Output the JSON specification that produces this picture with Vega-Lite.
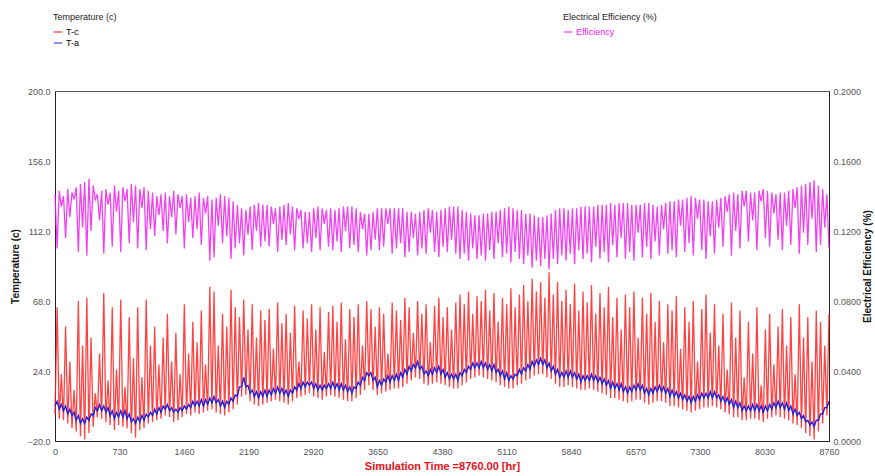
{
"$schema": "https://vega.github.io/schema/vega-lite/v6.json",
"width": 774, "height": 350,
"autosize": {"type": "none"},
"padding": {"left": 55, "top": 91, "right": 46, "bottom": 35},
"background": "white",
"config": {"font": "Liberation Sans", "view": {"stroke": "#555", "strokeWidth": 1},
 "axis": {"labelFont": "Liberation Sans", "labelFontSize": 9, "labelColor": "#555", "domainColor": "#222", "ticks": false, "grid": false, "titleFont": "Liberation Sans", "titleFontSize": 10, "titleFontWeight": "bold", "titleColor": "#111"}},
"data": {"values": [
{"t":0,"c":-3,"a":2,"e":0.141},{"t":24,"c":64,"a":5,"e":0.110},{"t":48,"c":-6,"a":0,"e":0.143},{"t":72,"c":22,"a":3,"e":0.134},{"t":96,"c":-7,"a":-1,"e":0.140},{"t":120,"c":52,"a":2,"e":0.116},{"t":144,"c":-9,"a":-3,"e":0.144},{"t":168,"c":30,"a":0,"e":0.128},{"t":192,"c":-12,"a":-4,"e":0.142},{"t":216,"c":12,"a":-2,"e":0.138},
{"t":240,"c":-14,"a":-7,"e":0.145},{"t":264,"c":68,"a":-4,"e":0.108},{"t":288,"c":-17,"a":-9,"e":0.147},{"t":312,"c":40,"a":-6,"e":0.122},{"t":336,"c":-19,"a":-9,"e":0.148},{"t":360,"c":70,"a":-5,"e":0.106},{"t":384,"c":-15,"a":-7,"e":0.150},{"t":408,"c":45,"a":-3,"e":0.120},{"t":432,"c":-11,"a":-4,"e":0.146},{"t":456,"c":10,"a":1,"e":0.138},
{"t":480,"c":-5,"a":-1,"e":0.141},{"t":504,"c":35,"a":3,"e":0.126},{"t":528,"c":-6,"a":-1,"e":0.143},{"t":552,"c":73,"a":2,"e":0.107},{"t":576,"c":-8,"a":-2,"e":0.144},{"t":600,"c":18,"a":1,"e":0.135},{"t":624,"c":-10,"a":-4,"e":0.142},{"t":648,"c":64,"a":-1,"e":0.111},{"t":672,"c":-13,"a":-6,"e":0.146},{"t":696,"c":25,"a":-2,"e":0.131},
{"t":720,"c":-10,"a":-5,"e":0.143},{"t":744,"c":69,"a":-1,"e":0.108},{"t":768,"c":-11,"a":-5,"e":0.145},{"t":792,"c":14,"a":-1,"e":0.137},{"t":816,"c":-12,"a":-6,"e":0.144},{"t":840,"c":58,"a":-3,"e":0.113},{"t":864,"c":-15,"a":-8,"e":0.147},{"t":888,"c":32,"a":-6,"e":0.125},{"t":912,"c":-18,"a":-9,"e":0.146},{"t":936,"c":64,"a":-5,"e":0.110},
{"t":960,"c":-13,"a":-8,"e":0.144},{"t":984,"c":20,"a":-4,"e":0.133},{"t":1008,"c":-12,"a":-7,"e":0.145},{"t":1032,"c":69,"a":-3,"e":0.109},{"t":1056,"c":-9,"a":-5,"e":0.143},{"t":1080,"c":40,"a":-2,"e":0.121},{"t":1104,"c":-8,"a":-4,"e":0.142},{"t":1128,"c":52,"a":0,"e":0.117},{"t":1152,"c":-7,"a":-3,"e":0.140},{"t":1176,"c":28,"a":1,"e":0.129},
{"t":1200,"c":-6,"a":-2,"e":0.141},{"t":1224,"c":45,"a":2,"e":0.120},{"t":1248,"c":-4,"a":0,"e":0.142},{"t":1272,"c":60,"a":3,"e":0.113},{"t":1296,"c":-5,"a":-1,"e":0.140},{"t":1320,"c":30,"a":1,"e":0.128},{"t":1344,"c":-8,"a":-2,"e":0.143},{"t":1368,"c":48,"a":0,"e":0.118},{"t":1392,"c":-7,"a":-2,"e":0.141},{"t":1416,"c":22,"a":1,"e":0.133},
{"t":1440,"c":-5,"a":-1,"e":0.140},{"t":1464,"c":66,"a":2,"e":0.110},{"t":1488,"c":-3,"a":0,"e":0.141},{"t":1512,"c":35,"a":3,"e":0.125},{"t":1536,"c":-4,"a":1,"e":0.139},{"t":1560,"c":55,"a":5,"e":0.116},{"t":1584,"c":-2,"a":2,"e":0.140},{"t":1608,"c":42,"a":5,"e":0.121},{"t":1632,"c":-3,"a":2,"e":0.142},{"t":1656,"c":62,"a":6,"e":0.112},
{"t":1680,"c":-2,"a":2,"e":0.139},{"t":1704,"c":28,"a":6,"e":0.130},{"t":1728,"c":-1,"a":3,"e":0.140},{"t":1752,"c":77,"a":7,"e":0.103},{"t":1776,"c":0,"a":4,"e":0.138},{"t":1800,"c":74,"a":8,"e":0.105},{"t":1824,"c":-2,"a":4,"e":0.139},{"t":1848,"c":40,"a":6,"e":0.123},{"t":1872,"c":-3,"a":2,"e":0.141},{"t":1896,"c":60,"a":5,"e":0.113},
{"t":1920,"c":-4,"a":1,"e":0.140},{"t":1944,"c":52,"a":5,"e":0.117},{"t":1968,"c":-2,"a":3,"e":0.139},{"t":1992,"c":75,"a":7,"e":0.104},{"t":2016,"c":0,"a":5,"e":0.137},{"t":2040,"c":64,"a":9,"e":0.110},{"t":2064,"c":3,"a":8,"e":0.135},{"t":2088,"c":58,"a":14,"e":0.113},{"t":2112,"c":8,"a":14,"e":0.133},{"t":2136,"c":69,"a":20,"e":0.106},
{"t":2160,"c":9,"a":14,"e":0.132},{"t":2184,"c":50,"a":15,"e":0.118},{"t":2208,"c":5,"a":10,"e":0.134},{"t":2232,"c":66,"a":12,"e":0.109},{"t":2256,"c":3,"a":8,"e":0.135},{"t":2280,"c":45,"a":11,"e":0.120},{"t":2304,"c":2,"a":7,"e":0.136},{"t":2328,"c":62,"a":11,"e":0.111},{"t":2352,"c":3,"a":8,"e":0.135},{"t":2376,"c":56,"a":12,"e":0.114},
{"t":2400,"c":4,"a":8,"e":0.135},{"t":2424,"c":63,"a":12,"e":0.111},{"t":2448,"c":5,"a":9,"e":0.134},{"t":2472,"c":38,"a":13,"e":0.124},{"t":2496,"c":6,"a":10,"e":0.133},{"t":2520,"c":67,"a":14,"e":0.108},{"t":2544,"c":5,"a":10,"e":0.134},{"t":2568,"c":54,"a":13,"e":0.115},{"t":2592,"c":4,"a":9,"e":0.135},{"t":2616,"c":60,"a":12,"e":0.112},
{"t":2640,"c":3,"a":8,"e":0.136},{"t":2664,"c":48,"a":12,"e":0.118},{"t":2688,"c":5,"a":10,"e":0.134},{"t":2712,"c":65,"a":14,"e":0.109},{"t":2736,"c":7,"a":12,"e":0.133},{"t":2760,"c":30,"a":16,"e":0.127},{"t":2784,"c":8,"a":13,"e":0.132},{"t":2808,"c":62,"a":17,"e":0.110},{"t":2832,"c":9,"a":14,"e":0.131},{"t":2856,"c":57,"a":17,"e":0.113},
{"t":2880,"c":10,"a":15,"e":0.131},{"t":2904,"c":66,"a":17,"e":0.108},{"t":2928,"c":8,"a":13,"e":0.133},{"t":2952,"c":50,"a":16,"e":0.116},{"t":2976,"c":7,"a":12,"e":0.134},{"t":3000,"c":64,"a":15,"e":0.109},{"t":3024,"c":6,"a":12,"e":0.133},{"t":3048,"c":36,"a":15,"e":0.124},{"t":3072,"c":8,"a":13,"e":0.132},{"t":3096,"c":61,"a":16,"e":0.111},
{"t":3120,"c":9,"a":13,"e":0.133},{"t":3144,"c":65,"a":17,"e":0.109},{"t":3168,"c":8,"a":13,"e":0.132},{"t":3192,"c":55,"a":16,"e":0.114},{"t":3216,"c":7,"a":12,"e":0.133},{"t":3240,"c":67,"a":16,"e":0.108},{"t":3264,"c":6,"a":12,"e":0.134},{"t":3288,"c":44,"a":15,"e":0.120},{"t":3312,"c":5,"a":11,"e":0.134},{"t":3336,"c":63,"a":14,"e":0.110},
{"t":3360,"c":5,"a":10,"e":0.134},{"t":3384,"c":58,"a":14,"e":0.112},{"t":3408,"c":7,"a":13,"e":0.133},{"t":3432,"c":66,"a":17,"e":0.108},{"t":3456,"c":9,"a":15,"e":0.131},{"t":3480,"c":40,"a":20,"e":0.121},{"t":3504,"c":12,"a":18,"e":0.130},{"t":3528,"c":68,"a":23,"e":0.106},{"t":3552,"c":15,"a":21,"e":0.130},{"t":3576,"c":63,"a":23,"e":0.109},
{"t":3600,"c":12,"a":18,"e":0.131},{"t":3624,"c":52,"a":20,"e":0.115},{"t":3648,"c":9,"a":14,"e":0.133},{"t":3672,"c":64,"a":18,"e":0.109},{"t":3696,"c":10,"a":15,"e":0.133},{"t":3720,"c":60,"a":19,"e":0.111},{"t":3744,"c":11,"a":17,"e":0.133},{"t":3768,"c":35,"a":21,"e":0.124},{"t":3792,"c":12,"a":17,"e":0.133},{"t":3816,"c":67,"a":21,"e":0.107},
{"t":3840,"c":13,"a":18,"e":0.133},{"t":3864,"c":62,"a":22,"e":0.110},{"t":3888,"c":13,"a":18,"e":0.133},{"t":3912,"c":56,"a":23,"e":0.113},{"t":3936,"c":14,"a":20,"e":0.133},{"t":3960,"c":70,"a":25,"e":0.105},{"t":3984,"c":16,"a":22,"e":0.131},{"t":4008,"c":64,"a":27,"e":0.108},{"t":4032,"c":18,"a":24,"e":0.131},{"t":4056,"c":48,"a":28,"e":0.116},
{"t":4080,"c":20,"a":26,"e":0.130},{"t":4104,"c":68,"a":30,"e":0.106},{"t":4128,"c":19,"a":25,"e":0.131},{"t":4152,"c":60,"a":27,"e":0.110},{"t":4176,"c":16,"a":22,"e":0.132},{"t":4200,"c":66,"a":24,"e":0.107},{"t":4224,"c":15,"a":21,"e":0.133},{"t":4248,"c":42,"a":25,"e":0.119},{"t":4272,"c":16,"a":22,"e":0.132},{"t":4296,"c":65,"a":26,"e":0.108},
{"t":4320,"c":17,"a":23,"e":0.131},{"t":4344,"c":70,"a":27,"e":0.105},{"t":4368,"c":16,"a":22,"e":0.132},{"t":4392,"c":58,"a":25,"e":0.111},{"t":4416,"c":15,"a":20,"e":0.133},{"t":4440,"c":64,"a":23,"e":0.108},{"t":4464,"c":14,"a":19,"e":0.134},{"t":4488,"c":50,"a":22,"e":0.115},{"t":4512,"c":13,"a":19,"e":0.134},{"t":4536,"c":67,"a":22,"e":0.107},
{"t":4560,"c":13,"a":18,"e":0.134},{"t":4584,"c":72,"a":23,"e":0.104},{"t":4608,"c":15,"a":21,"e":0.132},{"t":4632,"c":66,"a":25,"e":0.107},{"t":4656,"c":17,"a":23,"e":0.131},{"t":4680,"c":74,"a":27,"e":0.103},{"t":4704,"c":19,"a":25,"e":0.130},{"t":4728,"c":60,"a":29,"e":0.110},{"t":4752,"c":20,"a":26,"e":0.129},{"t":4776,"c":71,"a":29,"e":0.104},
{"t":4800,"c":21,"a":26,"e":0.129},{"t":4824,"c":68,"a":30,"e":0.106},{"t":4848,"c":20,"a":26,"e":0.130},{"t":4872,"c":75,"a":29,"e":0.103},{"t":4896,"c":19,"a":25,"e":0.130},{"t":4920,"c":62,"a":28,"e":0.109},{"t":4944,"c":18,"a":24,"e":0.131},{"t":4968,"c":73,"a":28,"e":0.104},{"t":4992,"c":17,"a":23,"e":0.131},{"t":5016,"c":55,"a":25,"e":0.113},
{"t":5040,"c":15,"a":21,"e":0.132},{"t":5064,"c":70,"a":24,"e":0.105},{"t":5088,"c":14,"a":19,"e":0.133},{"t":5112,"c":66,"a":23,"e":0.107},{"t":5136,"c":13,"a":18,"e":0.134},{"t":5160,"c":76,"a":21,"e":0.102},{"t":5184,"c":13,"a":19,"e":0.133},{"t":5208,"c":64,"a":22,"e":0.108},{"t":5232,"c":15,"a":21,"e":0.132},{"t":5256,"c":72,"a":25,"e":0.104},
{"t":5280,"c":16,"a":22,"e":0.132},{"t":5304,"c":78,"a":26,"e":0.101},{"t":5328,"c":18,"a":24,"e":0.130},{"t":5352,"c":68,"a":28,"e":0.106},{"t":5376,"c":19,"a":25,"e":0.130},{"t":5400,"c":82,"a":30,"e":0.099},{"t":5424,"c":21,"a":27,"e":0.129},{"t":5448,"c":74,"a":31,"e":0.103},{"t":5472,"c":22,"a":28,"e":0.128},{"t":5496,"c":80,"a":32,"e":0.100},
{"t":5520,"c":22,"a":28,"e":0.128},{"t":5544,"c":70,"a":31,"e":0.104},{"t":5568,"c":20,"a":26,"e":0.129},{"t":5592,"c":86,"a":29,"e":0.098},{"t":5616,"c":19,"a":24,"e":0.130},{"t":5640,"c":72,"a":27,"e":0.104},{"t":5664,"c":16,"a":22,"e":0.132},{"t":5688,"c":80,"a":25,"e":0.101},{"t":5712,"c":14,"a":20,"e":0.133},{"t":5736,"c":68,"a":23,"e":0.106},
{"t":5760,"c":14,"a":20,"e":0.133},{"t":5784,"c":75,"a":24,"e":0.103},{"t":5808,"c":15,"a":20,"e":0.132},{"t":5832,"c":66,"a":24,"e":0.107},{"t":5856,"c":14,"a":20,"e":0.133},{"t":5880,"c":79,"a":23,"e":0.101},{"t":5904,"c":13,"a":19,"e":0.133},{"t":5928,"c":62,"a":22,"e":0.109},{"t":5952,"c":12,"a":17,"e":0.134},{"t":5976,"c":74,"a":21,"e":0.104},
{"t":6000,"c":12,"a":18,"e":0.134},{"t":6024,"c":67,"a":21,"e":0.107},{"t":6048,"c":13,"a":18,"e":0.134},{"t":6072,"c":78,"a":22,"e":0.102},{"t":6096,"c":12,"a":18,"e":0.134},{"t":6120,"c":60,"a":21,"e":0.111},{"t":6144,"c":11,"a":17,"e":0.135},{"t":6168,"c":73,"a":20,"e":0.104},{"t":6192,"c":10,"a":16,"e":0.135},{"t":6216,"c":64,"a":19,"e":0.108},
{"t":6240,"c":9,"a":15,"e":0.135},{"t":6264,"c":77,"a":18,"e":0.102},{"t":6288,"c":7,"a":13,"e":0.136},{"t":6312,"c":58,"a":17,"e":0.112},{"t":6336,"c":7,"a":13,"e":0.135},{"t":6360,"c":70,"a":16,"e":0.105},{"t":6384,"c":6,"a":12,"e":0.136},{"t":6408,"c":50,"a":16,"e":0.116},{"t":6432,"c":5,"a":11,"e":0.136},{"t":6456,"c":72,"a":14,"e":0.104},
{"t":6480,"c":4,"a":10,"e":0.136},{"t":6504,"c":64,"a":14,"e":0.108},{"t":6528,"c":5,"a":11,"e":0.135},{"t":6552,"c":74,"a":15,"e":0.103},{"t":6576,"c":6,"a":12,"e":0.135},{"t":6600,"c":45,"a":16,"e":0.119},{"t":6624,"c":6,"a":12,"e":0.135},{"t":6648,"c":70,"a":15,"e":0.105},{"t":6672,"c":4,"a":10,"e":0.136},{"t":6696,"c":60,"a":13,"e":0.111},
{"t":6720,"c":3,"a":9,"e":0.136},{"t":6744,"c":73,"a":13,"e":0.104},{"t":6768,"c":4,"a":10,"e":0.135},{"t":6792,"c":55,"a":14,"e":0.114},{"t":6816,"c":5,"a":11,"e":0.134},{"t":6840,"c":68,"a":15,"e":0.106},{"t":6864,"c":5,"a":11,"e":0.135},{"t":6888,"c":42,"a":14,"e":0.121},{"t":6912,"c":4,"a":10,"e":0.136},{"t":6936,"c":66,"a":13,"e":0.107},
{"t":6960,"c":2,"a":8,"e":0.137},{"t":6984,"c":62,"a":12,"e":0.109},{"t":7008,"c":2,"a":8,"e":0.137},{"t":7032,"c":71,"a":11,"e":0.105},{"t":7056,"c":1,"a":7,"e":0.138},{"t":7080,"c":38,"a":10,"e":0.123},{"t":7104,"c":0,"a":6,"e":0.138},{"t":7128,"c":64,"a":9,"e":0.108},{"t":7152,"c":-1,"a":5,"e":0.139},{"t":7176,"c":55,"a":8,"e":0.113},
{"t":7200,"c":-2,"a":4,"e":0.140},{"t":7224,"c":68,"a":8,"e":0.106},{"t":7248,"c":-1,"a":5,"e":0.139},{"t":7272,"c":30,"a":9,"e":0.127},{"t":7296,"c":0,"a":6,"e":0.138},{"t":7320,"c":63,"a":10,"e":0.109},{"t":7344,"c":1,"a":7,"e":0.138},{"t":7368,"c":72,"a":10,"e":0.104},{"t":7392,"c":1,"a":7,"e":0.137},{"t":7416,"c":48,"a":11,"e":0.117},
{"t":7440,"c":2,"a":7,"e":0.137},{"t":7464,"c":66,"a":11,"e":0.107},{"t":7488,"c":1,"a":7,"e":0.138},{"t":7512,"c":40,"a":9,"e":0.122},{"t":7536,"c":0,"a":5,"e":0.139},{"t":7560,"c":60,"a":8,"e":0.111},{"t":7584,"c":-2,"a":4,"e":0.140},{"t":7608,"c":25,"a":7,"e":0.131},{"t":7632,"c":-3,"a":3,"e":0.141},{"t":7656,"c":67,"a":6,"e":0.106},
{"t":7680,"c":-5,"a":1,"e":0.142},{"t":7704,"c":45,"a":5,"e":0.120},{"t":7728,"c":-5,"a":1,"e":0.141},{"t":7752,"c":62,"a":4,"e":0.110},{"t":7776,"c":-7,"a":-1,"e":0.143},{"t":7800,"c":20,"a":2,"e":0.134},{"t":7824,"c":-7,"a":-1,"e":0.143},{"t":7848,"c":55,"a":2,"e":0.114},{"t":7872,"c":-6,"a":-1,"e":0.142},{"t":7896,"c":35,"a":3,"e":0.126},
{"t":7920,"c":-6,"a":-1,"e":0.142},{"t":7944,"c":64,"a":3,"e":0.109},{"t":7968,"c":-7,"a":-1,"e":0.143},{"t":7992,"c":15,"a":2,"e":0.137},{"t":8016,"c":-8,"a":-2,"e":0.144},{"t":8040,"c":50,"a":2,"e":0.116},{"t":8064,"c":-6,"a":-1,"e":0.143},{"t":8088,"c":60,"a":3,"e":0.111},{"t":8112,"c":-5,"a":0,"e":0.142},{"t":8136,"c":28,"a":4,"e":0.130},
{"t":8160,"c":-4,"a":1,"e":0.141},{"t":8184,"c":52,"a":5,"e":0.115},{"t":8208,"c":-5,"a":1,"e":0.142},{"t":8232,"c":63,"a":4,"e":0.109},{"t":8256,"c":-6,"a":0,"e":0.142},{"t":8280,"c":40,"a":4,"e":0.123},{"t":8304,"c":-7,"a":-1,"e":0.143},{"t":8328,"c":58,"a":2,"e":0.112},{"t":8352,"c":-9,"a":-3,"e":0.144},{"t":8376,"c":22,"a":0,"e":0.133},
{"t":8400,"c":-10,"a":-4,"e":0.145},{"t":8424,"c":66,"a":-2,"e":0.107},{"t":8448,"c":-12,"a":-6,"e":0.146},{"t":8472,"c":45,"a":-4,"e":0.119},{"t":8496,"c":-15,"a":-8,"e":0.147},{"t":8520,"c":58,"a":-7,"e":0.112},{"t":8544,"c":-17,"a":-10,"e":0.148},{"t":8568,"c":30,"a":-8,"e":0.127},{"t":8592,"c":-19,"a":-11,"e":0.149},{"t":8616,"c":62,"a":-7,"e":0.108},
{"t":8640,"c":-14,"a":-7,"e":0.146},{"t":8664,"c":55,"a":-3,"e":0.112},{"t":8688,"c":-9,"a":-3,"e":0.144},{"t":8712,"c":40,"a":1,"e":0.122},{"t":8736,"c":-4,"a":1,"e":0.141},{"t":8760,"c":60,"a":5,"e":0.110}
]},
"encoding": {"x": {"field": "t", "type": "quantitative", "scale": {"domain": [0, 8760], "nice": false},
  "axis": {"values": [0,730,1460,2190,2920,3650,4380,5110,5840,6570,7300,8030,8760], "format": "d", "labelPadding": 6, "title": "Simulation Time =8760.00 [hr]", "titleColor": "#e8101a", "titleFontSize": 11, "titlePadding": 4, "labelFlush": false}}},
"layer": [
 {"layer": [
  {"mark": {"type": "line", "strokeWidth": 1.3, "opacity": 0.85},
   "encoding": {"y": {"field": "c", "type": "quantitative", "scale": {"domain": [-20, 200], "nice": false, "zero": false},
      "axis": {"values": [-20,24,68,112,156,200], "format": ".1f", "title": "Temperature (c)", "labelPadding": 5, "titlePadding": 7}},
    "color": {"datum": "T-c", "scale": {"domain": ["T-c", "T-a"], "range": ["#ff2222", "#2222dd"]},
      "legend": {"title": "Temperature (c)", "orient": "none", "legendX": -2, "legendY": -78, "symbolType": "stroke", "symbolSize": 70, "symbolStrokeWidth": 1.2, "titleFontSize": 9, "titleFontWeight": "normal", "titleColor": "#222", "labelFontSize": 9, "titlePadding": 5, "rowPadding": 1, "labelOffset": 3,
        "encode": {"labels": {"update": {"fill": {"signal": "datum.value === 'T-c' ? '#ff2222' : '#2222dd'"}}}}}}}},
  {"mark": {"type": "line", "strokeWidth": 1.4},
   "encoding": {"y": {"field": "a", "type": "quantitative", "scale": {"domain": [-20, 200], "nice": false, "zero": false},
      "axis": {"values": [-20,24,68,112,156,200], "format": ".1f", "title": "Temperature (c)", "labelPadding": 5, "titlePadding": 7}},
    "color": {"datum": "T-a"}}}
 ]},
 {"mark": {"type": "line", "strokeWidth": 1.3, "opacity": 0.85},
  "encoding": {"y": {"field": "e", "type": "quantitative", "scale": {"domain": [0, 0.2], "nice": false, "zero": false},
     "axis": {"orient": "right", "values": [0,0.04,0.08,0.12,0.16,0.2], "format": ".4f", "title": "Electrical Efficiency (%)", "titleAngle": 270, "labelPadding": 4, "titlePadding": 12}},
   "color": {"datum": "Efficiency", "scale": {"domain": ["Efficiency"], "range": ["#f020f0"]},
     "legend": {"title": "Electrical Efficiency (%)", "orient": "none", "legendX": 508, "legendY": -78, "symbolType": "stroke", "symbolSize": 70, "symbolStrokeWidth": 1.2, "titleFontSize": 9, "titleFontWeight": "normal", "titleColor": "#222", "labelFontSize": 9, "labelColor": "#f020f0", "titlePadding": 5, "labelOffset": 3}}}}
],
"resolve": {"scale": {"y": "independent", "color": "independent"}}
}
